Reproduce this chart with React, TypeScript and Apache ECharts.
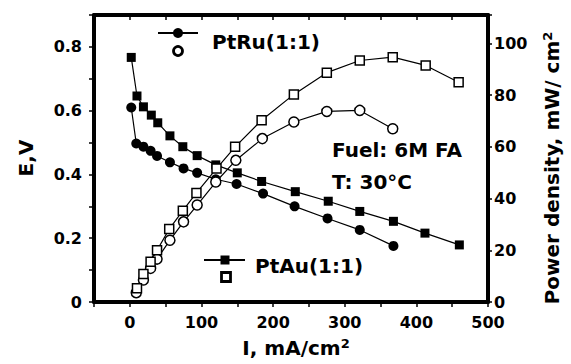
import React, { useEffect, useRef } from "react";
import * as echarts from "echarts";

const ptRuCurrent = [2, 9, 19, 29, 38, 56, 75, 94, 120, 149, 186, 230, 276, 321, 368];
const ptRuVoltage = [0.61, 0.497, 0.487, 0.474, 0.458, 0.438, 0.419, 0.405, 0.385, 0.37, 0.34, 0.3, 0.262, 0.226, 0.176];
const ptRuPowerCurrent = [9, 19, 29, 38, 56, 75, 94, 120, 148, 185, 229, 275, 321, 367];
const ptRuPower = [3.6, 8.5, 13, 16.6, 23.9, 31, 37.5, 46.4, 54.8, 63.2, 69.6, 73.7, 74.1, 67];

const ptAuCurrent = [2, 10, 19, 30, 39, 56, 74, 94, 120, 150, 184, 231, 277, 321, 368, 412, 460];
const ptAuVoltage = [0.767, 0.646, 0.612, 0.586, 0.562, 0.521, 0.487, 0.459, 0.43, 0.405, 0.378, 0.346, 0.316, 0.284, 0.253, 0.216, 0.179];
const ptAuPowerCurrent = [10, 19, 29, 38, 55, 74, 93, 121, 147, 184, 229, 275, 321, 367, 413, 459];
const ptAuPower = [5.3, 10.8, 15.6, 20, 28.2, 35.3, 42.2, 51.6, 60, 70.3, 80.3, 88.7, 93.4, 94.7, 91.5, 85];

const xTitle = "I, mA/cm";
const yLeftTitle = "E,V";
const yRightTitle = "Power density, mW/ cm";
const labelPtRu = "PtRu(1:1)";
const labelPtAu = "PtAu(1:1)";
const noteFuel = "Fuel: 6M FA";
const noteTemp = "T: 30°C";

const FONT = "DejaVu Sans";
const zip = (a: number[], b: number[]) => a.map((v, i) => [v, b[i]]);

export default function App() {
  const ref = useRef<HTMLDivElement>(null);
  useEffect(() => {
    if (!ref.current) return;
    const chart = echarts.init(ref.current, undefined, { renderer: "svg" });
    const axisLine = { show: true, onZero: false, lineStyle: { color: "#000", width: 4 } };
    const tickLabel = { color: "#000", fontFamily: FONT, fontWeight: "bold" as const, fontSize: 16 };
    const lineStyle = { color: "#000", width: 1.2 };
    const sup = { fontSize: 13, fontFamily: FONT, fontWeight: "bold" as const, fill: "#000", padding: [0, 0, 10, 0] };
    chart.setOption({
      animation: false,
      backgroundColor: "#fff",
      grid: { left: 94, right: 83, top: 15, bottom: 62 },
      xAxis: [
        {
          type: "value",
          position: "bottom",
          min: -50,
          max: 500,
          interval: 50,
          axisLine,
          axisTick: { show: true, inside: false, length: 5, lineStyle: { width: 1.5, color: "#000" } },
          axisLabel: {
            ...tickLabel,
            margin: 12,
            formatter: (v: number) => (Math.round(v) % 100 === 0 ? String(Math.round(v)) : ""),
          },
          splitLine: { show: false },
        },
        {
          type: "value",
          position: "top",
          min: -50,
          max: 500,
          interval: 50,
          axisLine,
          axisTick: { show: true, inside: true, length: 5, lineStyle: { width: 1.5, color: "#000" } },
          axisLabel: { show: false },
          splitLine: { show: false },
        },
      ],
      yAxis: [
        {
          type: "value",
          position: "left",
          min: 0,
          max: 0.9,
          interval: 0.1,
          axisLine,
          axisTick: { show: true, length: 5, lineStyle: { width: 1.5, color: "#000" } },
          axisLabel: {
            ...tickLabel,
            margin: 12,
            formatter: (v: number) => {
              const t = Math.round(v * 10);
              if (t % 2 !== 0) return "";
              return t === 0 ? "0" : (t / 10).toFixed(1);
            },
          },
          splitLine: { show: false },
        },
        {
          type: "value",
          position: "right",
          min: 0,
          max: 111,
          interval: 20,
          axisLine,
          axisTick: { show: true, length: 4, lineStyle: { width: 1.5, color: "#000" } },
          axisLabel: {
            ...tickLabel,
            margin: 6,
            formatter: (v: number) => (v <= 100 ? String(v) : ""),
          },
          splitLine: { show: false },
        },
      ],
      series: [
        {
          name: "PtRu E",
          type: "line",
          xAxisIndex: 0,
          yAxisIndex: 0,
          data: zip(ptRuCurrent, ptRuVoltage),
          symbol: "circle",
          symbolSize: 10,
          itemStyle: { color: "#000" },
          lineStyle,
          z: 2,
        },
        {
          name: "PtAu E",
          type: "line",
          xAxisIndex: 0,
          yAxisIndex: 0,
          data: zip(ptAuCurrent, ptAuVoltage),
          symbol: "rect",
          symbolSize: 9,
          itemStyle: { color: "#000" },
          lineStyle,
          z: 2,
        },
        {
          name: "PtRu P",
          type: "line",
          xAxisIndex: 0,
          yAxisIndex: 1,
          data: zip(ptRuPowerCurrent, ptRuPower),
          symbol: "circle",
          symbolSize: 10,
          showAllSymbol: true,
          itemStyle: { color: "#fff", borderColor: "#000", borderWidth: 1.5 },
          lineStyle,
          z: 3,
        },
        {
          name: "PtAu P",
          type: "line",
          xAxisIndex: 0,
          yAxisIndex: 1,
          data: zip(ptAuPowerCurrent, ptAuPower),
          symbol: "rect",
          symbolSize: 9,
          showAllSymbol: true,
          itemStyle: { color: "#fff", borderColor: "#000", borderWidth: 1.5 },
          lineStyle,
          z: 3,
        },
      ],
      graphic: [
        { type: "line", shape: { x1: 158, y1: 33, x2: 198, y2: 33 }, style: { stroke: "#000", lineWidth: 2 }, z: 10 },
        { type: "circle", shape: { cx: 178, cy: 33, r: 5 }, style: { fill: "#000" }, z: 10 },
        { type: "circle", shape: { cx: 178, cy: 51, r: 4.5 }, style: { fill: "#fff", stroke: "#000", lineWidth: 2.8 }, z: 10 },
        {
          type: "text", x: 212, y: 42, z: 10,
          style: { text: labelPtRu, fontFamily: FONT, fontWeight: "bold", fontSize: 20, fill: "#000", verticalAlign: "middle", align: "left" },
        },
        { type: "line", shape: { x1: 204, y1: 260, x2: 245, y2: 260 }, style: { stroke: "#000", lineWidth: 2 }, z: 10 },
        { type: "rect", shape: { x: 220.5, y: 255.5, width: 9, height: 9 }, style: { fill: "#000" }, z: 10 },
        { type: "rect", shape: { x: 221.5, y: 272.5, width: 9, height: 9 }, style: { fill: "#fff", stroke: "#000", lineWidth: 2.8 }, z: 10 },
        {
          type: "text", x: 255, y: 266, z: 10,
          style: { text: labelPtAu, fontFamily: FONT, fontWeight: "bold", fontSize: 20, fill: "#000", verticalAlign: "middle", align: "left" },
        },
        {
          type: "text", x: 332, y: 150, z: 10,
          style: { text: noteFuel, fontFamily: FONT, fontWeight: "bold", fontSize: 20, fill: "#000", verticalAlign: "middle", align: "left" },
        },
        {
          type: "text", x: 332, y: 182, z: 10,
          style: { text: noteTemp, fontFamily: FONT, fontWeight: "bold", fontSize: 20, fill: "#000", verticalAlign: "middle", align: "left" },
        },
        {
          type: "text", x: 296, y: 348, z: 10,
          style: {
            text: xTitle + "{sup|2}",
            rich: { sup },
            fontFamily: FONT, fontWeight: "bold", fontSize: 20, fill: "#000", verticalAlign: "middle", align: "center",
          },
        },
        {
          type: "text", x: 26, y: 158, rotation: Math.PI / 2, z: 10,
          style: { text: yLeftTitle, fontFamily: FONT, fontWeight: "bold", fontSize: 20, fill: "#000", verticalAlign: "middle", align: "center" },
        },
        {
          type: "text", x: 552, y: 168, rotation: Math.PI / 2, z: 10,
          style: {
            text: yRightTitle + "{sup|2}",
            rich: { sup },
            fontFamily: FONT, fontWeight: "bold", fontSize: 20, fill: "#000", verticalAlign: "middle", align: "center",
          },
        },
      ],
    });
    return () => chart.dispose();
  }, []);
  return <div ref={ref} style={{ position: "fixed", left: 0, top: 0, width: 571, height: 364, background: "#fff" }} />;
}
